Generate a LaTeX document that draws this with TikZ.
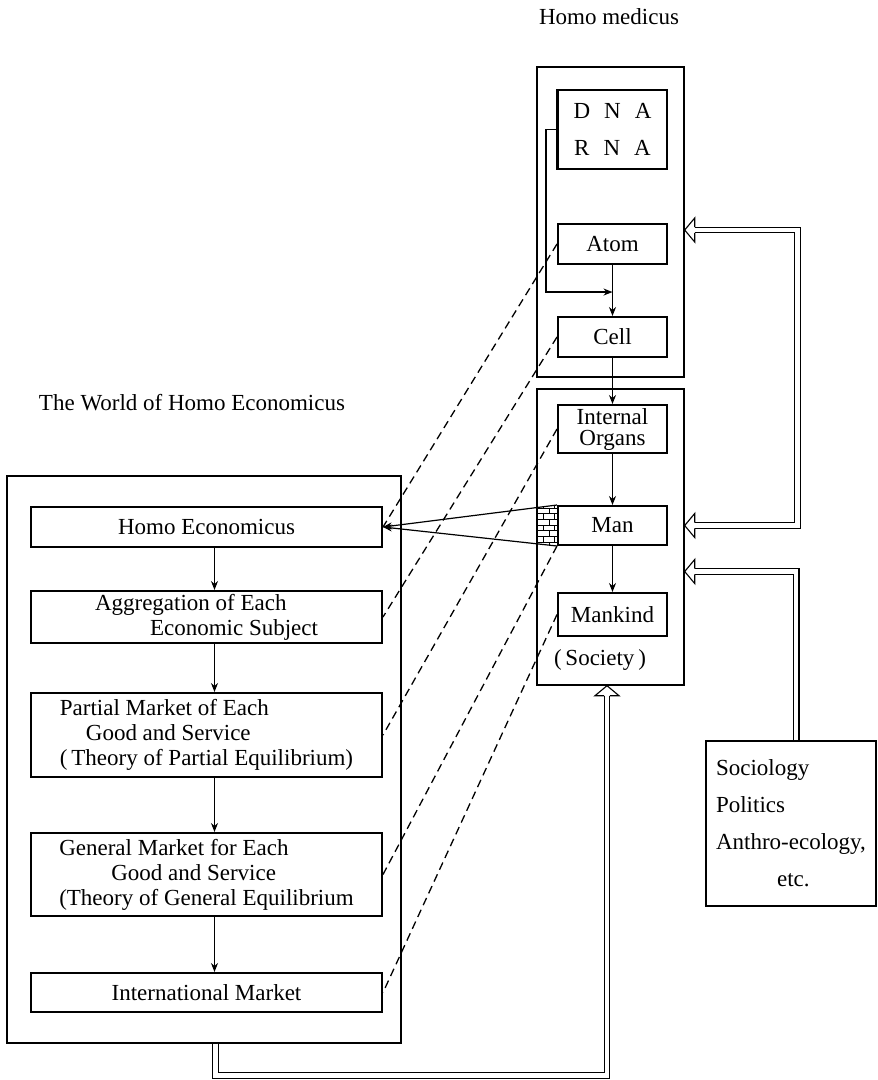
\documentclass[tikz,border=0pt]{standalone}
\usepackage{fontspec}
\setmainfont{Liberation Serif}
\usetikzlibrary{arrows.meta,calc,patterns}
\begin{document}
\begin{tikzpicture}[x=1pt,y=-1pt,
  every node/.style={font=\fontsize{23}{25}\selectfont, inner sep=0pt},
  frame/.style={draw, line width=1.4pt, rectangle},
  box/.style={draw, line width=2pt, rectangle, align=center},
  rbox/.style={box, minimum width=109pt},
  lbox/.style={box, minimum width=351pt},
  arr/.style={line width=1.2pt, -{Stealth[length=9pt,width=7pt]}},
  link/.style={line width=1.3pt, dash pattern=on 8pt off 5pt},
  dbl/.style={line width=1.1pt, double=white, double distance=4.5pt},
  pics/hollowtip/.style={code={%
    \draw[line width=1.1pt, line join=miter] (10,-2.8) -- (10,-12) -- (0,0) -- (10,12) -- (10,2.8);}}
]
\useasboundingbox (0,0) rectangle (878,1080);

% titles
\node (ttlMed) at (609,17) {Homo medicus};
\node (ttlEcon) at (192,403) {The World of Homo Economicus};

% outer frames
\node[frame, minimum width=147pt, minimum height=310pt] (medA) at (610.5,222) {};
\node[frame, minimum width=147pt, minimum height=296pt] (medB) at (610.5,537) {};
\node[frame, minimum width=394pt, minimum height=567pt] (econ) at (204,759.5) {};

% Homo medicus column
\node[rbox, minimum height=79pt] (dna) at (612.5,129.5)
  {D\hspace{14pt}N\hspace{14pt}A\\[12pt]R\hspace{14pt}N\hspace{14pt}A};
\node[rbox, minimum height=40pt] (atom) at (612.5,244) {Atom};
\node[rbox, minimum height=40pt] (cell) at (612.5,337) {Cell};
\node[rbox, minimum height=48pt, font=\fontsize{23}{21}\selectfont] (organs) at (612.5,429) {Internal\\Organs};
\node[rbox, minimum height=39pt] (man) at (612.5,525.5) {Man};
\node[rbox, minimum height=43pt] (mankind) at (612.5,614.5) {Mankind};
\node (society) at (600,660) {(\,Society\,)};

% Homo economicus column
\node[lbox, minimum height=40pt] (he) at (206.5,527) {Homo Economicus};
\node[lbox, minimum height=52pt, align=left] (agg) at (206.5,617)
  {Aggregation of Each\\\hspace*{55pt}Economic Subject};
\node[lbox, minimum height=84pt, align=left] (partial) at (206.5,735)
  {Partial Market of Each\\\hspace*{26pt}Good and Service\\(\,Theory of Partial Equilibrium)};
\node[lbox, minimum height=83pt, align=left] (general) at (206.5,874.5)
  {General Market for Each\\\hspace*{52pt}Good and Service\\(Theory of General Equilibrium};
\node[lbox, minimum height=39pt] (intl) at (206.5,992.5) {International Market};

% disciplines box
\node[frame, line width=1.6pt, minimum width=170pt, minimum height=165pt, align=left,
      font=\fontsize{23}{37}\selectfont] (soc) at (791,823.5)
  {Sociology\\Politics\\Anthro-ecology,\\\hspace*{61pt}etc.};

% chain arrows, right column
\draw[arr] (atom.south) -- (cell.north);
\draw[arr] (cell.south) -- (organs.north);
\draw[arr] (organs.south) -- (man.north);
\draw[arr] (man.south) -- (mankind.north);

% bracket from DNA/RNA into the atom-cell arrow
\draw[line width=2.6pt] (dna.north west) -- (dna.south west);
\coordinate (jn) at ($(atom.south)!0.53!(cell.north)$);
\draw[arr] (dna.west) -- ++(-11,0) |- (jn);

% chain arrows, left column
\draw[arr] ([xshift=8pt]he.south) -- ([xshift=8pt]agg.north);
\draw[arr] ([xshift=8pt]agg.south) -- ([xshift=8pt]partial.north);
\draw[arr] ([xshift=8pt]partial.south) -- ([xshift=8pt]general.north);
\draw[arr] ([xshift=8pt]general.south) -- ([xshift=8pt]intl.north);

% dashed correspondences
\draw[link] (atom.west) -- (he.east);
\draw[link] (cell.west) -- (agg.east);
\draw[link] (organs.west) -- (partial.east);
\draw[link] (man.south west) -- (general.east);
\draw[link] (mankind.west) -- (intl.east);

% Man -> Homo Economicus wedge
\fill[pattern=bricks] (man.north west) -- (man.south west)
  -- ($(man.south west)!0.12!(he.east)$) -- ($(man.north west)!0.12!(he.east)$) -- cycle;
\draw[arr] (man.north west) -- (he.east);
\draw[arr] (man.south west) -- (he.east);

% hollow double arrows
\coordinate (tA) at ($(medA.east |- atom.center)+(0,-14)$);
\coordinate (tM) at (medB.east |- man.center);
\coordinate (tS) at ($(tM)+(0,46)$);
\coordinate (tB) at ($(medB.south)+(-3.5,0)$);

\draw[dbl] ($(tA)+(10,0)$) -- ($(tA)+(113,0)$) |- ($(tM)+(10,0)$);
\pic at (tA) {hollowtip};
\pic at (tM) {hollowtip};

\draw[dbl] ($(soc.north west)+(91,0)$) |- ($(tS)+(10,0)$);
\pic at (tS) {hollowtip};

\draw[dbl] ($(econ.south)+(11.5,0)$) -- ($(econ.south)+(11.5,32)$) -| ($(tB)+(0,10)$);
\pic[rotate=-90] at (tB) {hollowtip};
\end{tikzpicture}
\end{document}
